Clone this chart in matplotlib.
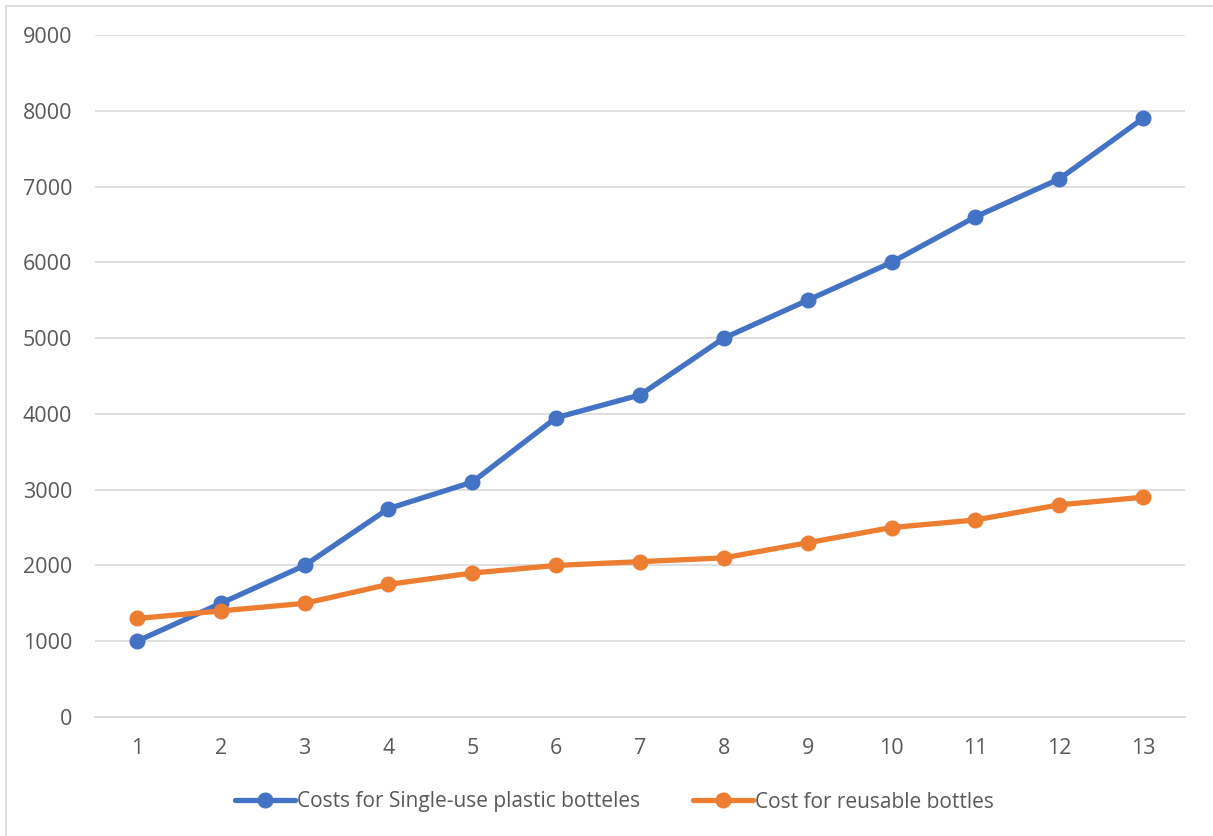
import matplotlib.pyplot as plt
from matplotlib.patches import Rectangle

periods = list(range(1, 14))
single_use = [1000, 1500, 2000, 2750, 3100, 3950, 4250, 5000, 5500, 6000, 6600, 7100, 7900]
reusable = [1300, 1400, 1500, 1750, 1900, 2000, 2050, 2100, 2300, 2500, 2600, 2800, 2900]
yticks = list(range(0, 10000, 1000))

plt.rcParams['font.family'] = ['Open Sans', 'DejaVu Sans']
txt = '#595959'

fig = plt.figure(figsize=(12.13, 8.36), dpi=100)
ax = fig.add_axes([95/1213, 1 - 717/836, 1090/1213, (717 - 35)/836])

# chart frame
fig.patches.append(Rectangle((6/1213, -0.01), 1.02, 1 - 6/836 + 0.01, transform=fig.transFigure,
                             fill=False, edgecolor='#d9d9d9', linewidth=1.2))

ax.plot(periods, single_use, color='#4472c4', lw=3.8, marker='o', ms=10.5,
        label='Costs for Single-use plastic botteles', solid_capstyle='round', zorder=3)
ax.plot(periods, reusable, color='#ed7d31', lw=3.8, marker='o', ms=10.5,
        label='Cost for reusable bottles', solid_capstyle='round', zorder=3)

ax.set_xlim(0.5, 13.5)
ax.set_ylim(0, 9000)
ax.set_xticks(periods)
ax.set_yticks(yticks)
ax.grid(axis='y', color='#d9d9d9', lw=1.2)
ax.set_axisbelow(True)
for s in ['top', 'right', 'left']:
    ax.spines[s].set_visible(False)
ax.spines['bottom'].set_color('#d9d9d9')
ax.spines['bottom'].set_linewidth(1.2)
ax.tick_params(length=0, labelsize=15.5, colors=txt, pad=15)
ax.tick_params(axis='y', pad=16.5)

leg = fig.legend(loc='center', bbox_to_anchor=(0.5 + 8/1213, 1 - 802/836), ncol=2, frameon=False,
                 fontsize=15, handlelength=2.9, handletextpad=0.1, columnspacing=2.5)
for t in leg.get_texts():
    t.set_color(txt)

fig.savefig('out.png', dpi=100)
